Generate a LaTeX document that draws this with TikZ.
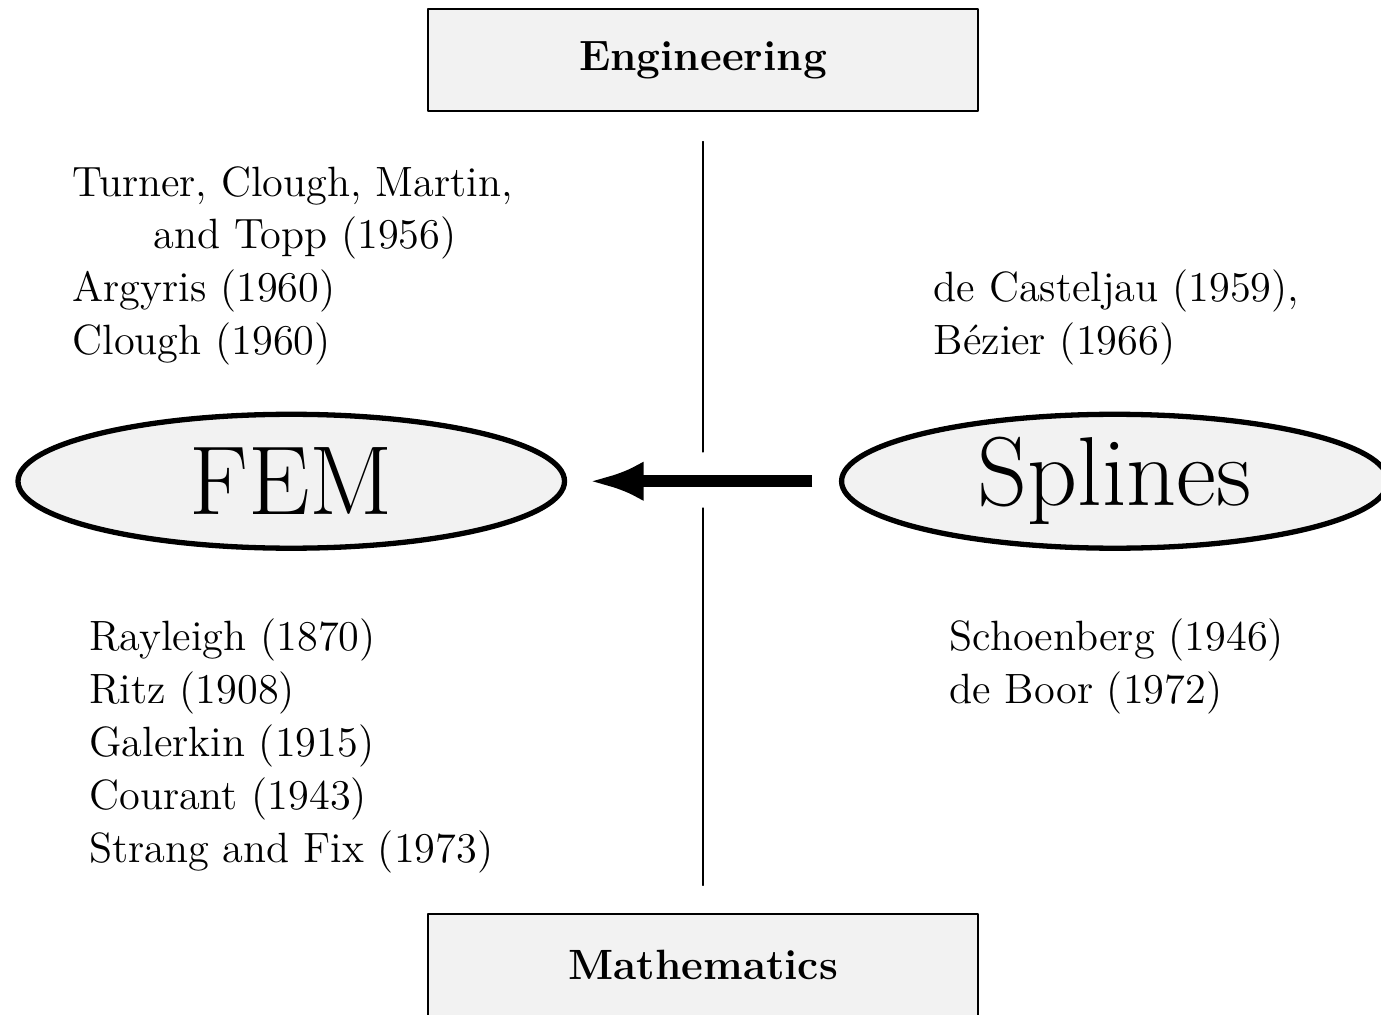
\documentclass[tikz,border=0pt]{standalone}
\usepackage{fontspec}
\usetikzlibrary{shapes.geometric,arrows.meta}
\begin{document}
\begin{tikzpicture}[line join = round, line cap=round,font=\Large,
    field/.style={draw,fill=black!5,line width=0.6pt,minimum width=6.57cm,minimum height=1.22cm,inner sep=0pt,font=\Large\bfseries},
    method/.style={ellipse,draw,fill=black!5,line width=1.8pt,minimum width=6.53cm,minimum height=1.60cm,inner sep=0pt,font=\fontsize{33.3}{40}\selectfont},
    refs/.style={align=left,anchor=base west,inner sep=0pt}]
    \useasboundingbox (0,0) rectangle (16.50,12.12);
    % fields
    \node[field] (eng) at (8.40,11.40) {Engineering};
    \node[field] (math) at (8.40,0.586) {Mathematics};
    % methods
    \node[method] (fem) at (3.48,6.37) {FEM};
    \node[method] (spl) at (13.32,6.37) {Splines};
    
    \coordinate (cuta) at (8.40,6.72);
    \coordinate (cutb) at (8.40,6.05);
    \draw[line width=0.4pt,shorten <=0.35cm] (eng.south)--(cuta);
    \draw[line width=0.4pt,shorten >=0.335cm] (cutb)--(math.north);
    \draw[-{Latex[length=18.5pt,width=13.5pt]},line width=4pt,line cap=butt,shorten <=9pt,shorten >=7.5pt] (spl)--(fem);
    
    % references (anchored at the last line)
    \node[refs] (fem eng) at (0.86,7.88) {Turner, Clough, Martin,\\\hspace*{27.5pt}and Topp (1956)\\Argyris (1960)\\Clough (1960)};
    \node[refs] (spl eng) at (11.15,7.88) {de Casteljau (1959),\\Bézier (1966)};
    \node[refs] (fem math) at (1.06,1.82) {Rayleigh (1870)\\Ritz (1908)\\Galerkin (1915)\\Courant (1943)\\Strang and Fix (1973)};
    \node[refs] (spl math) at (11.34,3.72) {Schoenberg (1946)\\de Boor (1972)};
\end{tikzpicture}
\end{document}
